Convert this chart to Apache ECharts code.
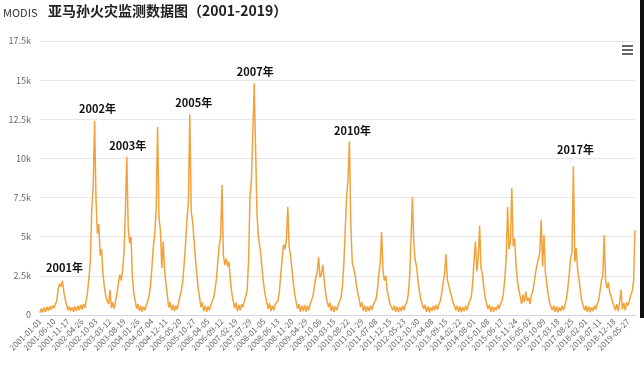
<!DOCTYPE html>
<html>
<head>
<meta charset="utf-8">
<script src="https://cdn.jsdelivr.net/npm/echarts@6/dist/echarts.min.js"></script>
<style>
html,body{margin:0;padding:0;background:#fff;}
#chart{width:644px;height:367px;}
</style>
</head>
<body>
<div id="chart"></div>
<script>
const startDate = '2001-01-01';
const stepDays = 16;
const fires2001 = [150,420,180,480,200,520,260,560,330,600,450,700,900,1700,2000,1800,2200,1500,1000,650,300,550,250];
const fires2002 = [500,200,550,250,600,300,650,350,700,450,900,1500,2400,3500,6800,8200,12400,7400,5200,5800,3800,4200,2600];
const fires2003 = [1800,1200,900,700,1600,450,800,400,900,1400,2000,2600,2200,2800,4000,6700,10100,5600,4600,5000,2400,1400,900];
const fires2004 = [400,700,250,600,200,550,300,650,900,1300,1900,3100,4400,5200,6800,12000,6200,5400,3000,4700,2800,2000,1200];
const fires2005 = [500,800,300,650,250,600,350,800,1200,1600,2200,3300,4600,6100,7200,12800,6600,6000,4800,3600,2600,1700,1100];
const fires2006 = [500,800,250,600,200,550,300,650,700,1100,1600,2300,3400,4400,5000,8300,3800,3200,3600,3100,3400,2200];
const fires2007 = [1400,900,450,800,250,650,300,700,500,900,1200,1600,3500,7600,8600,11500,14800,10600,6500,5000,4400,3600,2600];
const fires2008 = [1800,1200,800,400,750,250,600,300,700,600,900,1500,2600,3600,4500,4200,4800,6900,4300,3800,2900,2000,1300];
const fires2009 = [800,400,700,200,600,250,650,200,600,300,700,800,1200,1800,2400,2700,3700,2400,2600,3200,2200,1400,900];
const fires2010 = [500,800,250,600,200,550,300,650,700,1100,1800,3200,5400,7600,8600,11100,5800,3400,3000,2600,1900,1400,1000];
const fires2011 = [500,800,250,600,200,550,250,600,300,650,600,1000,1600,2600,3300,5300,2800,2200,2500,1600,1100,700,500];
const fires2012 = [300,600,200,550,180,500,250,600,300,650,800,1300,2400,4800,7500,4600,3500,3100,2200,1500,1000,700];
const fires2013 = [400,650,200,550,180,500,250,600,300,650,350,700,900,1400,2100,2600,3900,2200,1900,1500,1200,800,600];
const fires2014 = [300,600,200,550,180,500,250,600,300,700,700,1100,2000,3400,4700,2800,3600,5700,3000,2600,1800,1100,700];
const fires2015 = [400,650,200,550,200,500,300,650,400,750,900,1400,2300,3600,6900,4200,4600,8100,4400,4900,3200,2200,1600];
const fires2016 = [1200,700,1300,800,1500,900,1100,700,1300,1500,2100,2700,3200,3600,4000,6100,3100,5100,2700,2000,1300,800,500];
const fires2017 = [300,600,200,550,180,500,250,600,300,650,1000,1700,2600,3600,4000,9500,3400,4300,2900,2300,1500,900,600];
const fires2018 = [300,600,200,550,180,500,250,600,350,700,900,1500,2200,2500,5100,2200,1700,2100,1400,1200,800,600];
const fires2019 = [300,700,250,800,1600,350,750,300,800,600,900,1300,1500,2200,5400];

const yTicks = [0,2500,5000,7500,10000,12500,15000,17500];
const annotationTexts = ['2001年','2002年','2003年','2005年','2007年','2010年','2017年'];
const annotationIdx = [16,39,62,107,153,221,381];

const values = [].concat(fires2001,fires2002,fires2003,fires2004,fires2005,fires2006,fires2007,
  fires2008,fires2009,fires2010,fires2011,fires2012,fires2013,fires2014,fires2015,fires2016,
  fires2017,fires2018,fires2019);

const t0 = Date.parse(startDate + 'T00:00:00Z');
const categories = values.map((_, i) => new Date(t0 + i * stepDays * 86400000).toISOString().slice(0, 10));

const annOffsets = [[2,-13],[3,-12],[1,-11],[4,-12],[1,-11],[3,-10],[2,-16]];
const markData = annotationTexts.map((t, k) => ({
  coord: [annotationIdx[k], values[annotationIdx[k]]],
  value: t,
  label: { offset: annOffsets[k] }
}));

const chart = echarts.init(document.getElementById('chart'), null, {renderer: 'canvas'});
const FONT = '"Noto Sans CJK SC", "Noto Sans", sans-serif';
chart.setOption({
  animation: false,
  backgroundColor: '#fff',
  textStyle: { fontFamily: FONT },
  grid: { left: 40, right: 9, top: 41, bottom: 52, containLabel: false },
  xAxis: {
    type: 'category',
    data: categories,
    boundaryGap: false,
    axisLine: { lineStyle: { color: '#ccd6eb' } },
    axisTick: { show: false },
    axisLabel: { interval: 9, rotate: 45, fontSize: 8, color: '#666', margin: 5, fontFamily: FONT },
    splitLine: { show: false }
  },
  yAxis: {
    type: 'value',
    min: yTicks[0],
    max: yTicks[yTicks.length - 1],
    interval: 2500,
    axisLine: { show: false },
    axisTick: { show: false },
    axisLabel: {
      fontSize: 9, color: '#666', margin: 9, fontFamily: FONT,
      formatter: v => v === 0 ? '0' : (v / 1000) + 'k'
    },
    splitLine: { lineStyle: { color: '#e6e6e6', width: 1 } }
  },
  series: [{
    type: 'line',
    data: values,
    showSymbol: false,
    symbol: 'none',
    lineStyle: { color: '#f2a23a', width: 1.5 },
    itemStyle: { color: '#f2a23a' },
    markPoint: {
      symbol: 'circle',
      symbolSize: 1,
      itemStyle: { color: 'rgba(0,0,0,0)' },
      label: {
        show: true, position: 'inside', formatter: p => p.value,
        color: '#111', fontSize: 11, fontWeight: 'bold', fontFamily: FONT
      },
      data: markData
    }
  }],
  graphic: [
    { type: 'text', left: 3, top: 7, style: { text: 'MODIS', fontSize: 11, fill: '#333', fontFamily: FONT } },
    { type: 'text', left: 48, top: 4, style: { text: '亚马孙火灾监测数据图（2001-2019）', fontSize: 14, fontWeight: 'bold', fill: '#222', fontFamily: FONT } },
    { type: 'rect', shape: { x: 622, y: 45, width: 11, height: 2 }, style: { fill: '#666' } },
    { type: 'rect', shape: { x: 622, y: 49, width: 11, height: 2 }, style: { fill: '#666' } },
    { type: 'rect', shape: { x: 622, y: 53, width: 11, height: 2 }, style: { fill: '#666' } },
    { type: 'rect', shape: { x: 640, y: 0, width: 4, height: 318 }, style: { fill: '#111' } }
  ]
});
</script>
</body>
</html>
